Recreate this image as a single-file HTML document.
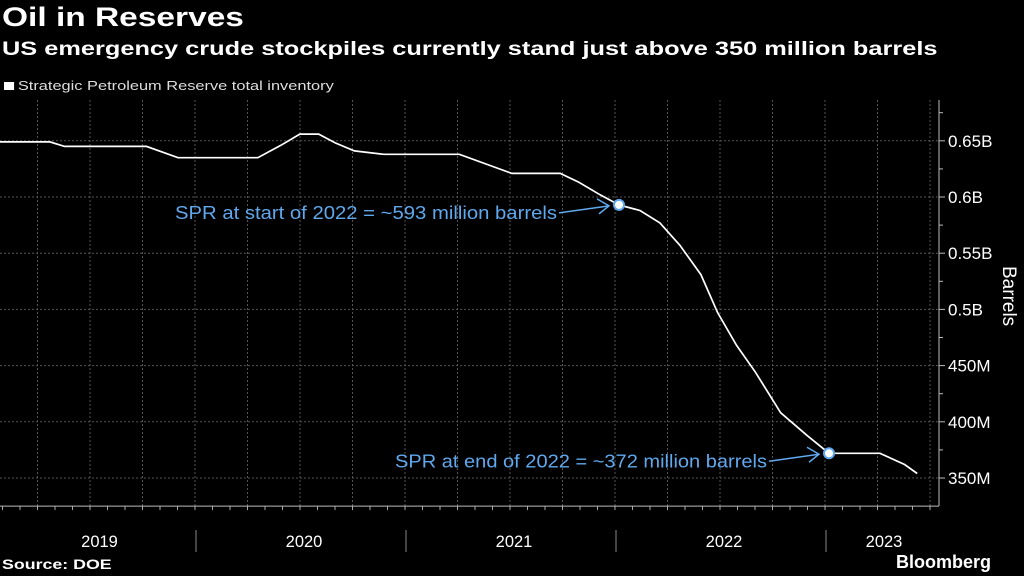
<!DOCTYPE html>
<html><head><meta charset="utf-8"><style>
body{margin:0;background:#000;width:1024px;height:576px;overflow:hidden;font-family:"Liberation Sans",sans-serif;color:#fff}
.t{position:absolute;white-space:nowrap;transform-origin:0 0}
</style></head><body>
<div class="t" style="left:2px;top:2px;font-size:27px;font-weight:bold;transform:scaleX(1.24)">Oil in Reserves</div>
<div class="t" style="left:2px;top:38px;font-size:19.5px;font-weight:bold;transform:scaleX(1.3)">US emergency crude stockpiles currently stand just above 350 million barrels</div>
<div class="t" style="left:4px;top:78px;font-size:13px;color:#ddd;transform:scaleX(1.26)"><span style="display:inline-block;width:8px;height:8px;background:#fff;margin-right:3px"></span>Strategic Petroleum Reserve total inventory</div>
<div class="t" style="left:2px;top:556px;font-size:14px;font-weight:bold;transform:scaleX(1.27)">Source: DOE</div>
<div class="t" style="left:896px;top:552px;font-size:18px;font-weight:bold">Bloomberg</div>
<svg id="c" width="1024" height="576" style="position:absolute;left:0;top:0"></svg>
<script>
const years=[2019.05,2019.29,2019.36,2019.75,2019.9,2020.28,2020.39,2020.48,2020.57,2020.65,2020.74,2020.88,2021.24,2021.49,2021.72,2021.81,2021.91,2022.0,2022.1,2022.195,2022.29,2022.39,2022.47,2022.56,2022.65,2022.77,2022.895,2023.0,2023.243,2023.36,2023.42];
const inventory=[649,649,645,645,635,635,646,656,656,648,641,638,638,621,621,613,602,593,588,577,557,531,497,468,444,408,388,372,372,362,354];
const yTicks=[350,400,450,500,550,600,650];
const yTickLabels=["350M","400M","450M","0.5B","0.55B","0.6B","0.65B"];
const yearLabels=["2019","2020","2021","2022","2023"];
const annotations=[{t:2022.0,v:593,text:"SPR at start of 2022 = ~593 million barrels",w:382},{t:2023.0,v:372,text:"SPR at end of 2022 = ~372 million barrels",w:372}];
const svg=document.getElementById('c');const NS='http://www.w3.org/2000/svg';
const X=t=>199+(t-2020)*210;const Y=v=>197+(600-v)/0.8897;
function mk(tag,a,p){const e=document.createElementNS(NS,tag);for(const k in a)e.setAttribute(k,a[k]);(p||svg).appendChild(e);return e;}
const L=0,R=939,T=100,B=506;
for(let t=2019;t<=2023.5;t+=0.25){const x=X(t)-4;if(x<L||x>R-2)continue;
const g=mk('line',{x1:x,x2:x,y1:T,y2:B,stroke:'#555','stroke-dasharray':'2,2','stroke-width':1});

}
for(let t=2019;t<=2023.5;t+=1/12){const x=X(t)-4;if(x<L||x>R)continue;mk('line',{x1:x,x2:x,y1:B,y2:B+4,stroke:'#aaa'});}
yTicks.forEach((v,i)=>{const y=Y(v);
const g=mk('line',{x1:L,x2:R,y1:y,y2:y,stroke:'#555','stroke-dasharray':'2,2'});


mk('line',{x1:R,x2:R+6,y1:y,y2:y,stroke:'#bbb'});
mk('line',{x1:R,x2:R+4,y1:Y(v+25),y2:Y(v+25),stroke:'#bbb'});
const tx=mk('text',{x:R+9,y:y+6,fill:'#fff','font-size':17,'font-family':'Liberation Sans, sans-serif'});tx.textContent=yTickLabels[i];

});
mk('line',{x1:L,x2:R,y1:Y(325),y2:Y(325),stroke:'#bbb'});
mk('line',{x1:R,x2:R,y1:T,y2:B,stroke:'#bbb'});
const yt=mk('text',{x:0,y:0,fill:'#fff','font-size':19,'font-family':'Liberation Sans, sans-serif',transform:'translate(1003,266) rotate(90)'});yt.textContent='Barrels';


yearLabels.forEach((s,i)=>{const y0=+s;const x1=Math.max(X(y0),0),x2=Math.min(X(y0+1),R);
if(X(y0)>0)mk('line',{x1:X(y0)-3,x2:X(y0)-3,y1:530,y2:552,stroke:'#888'});
const tx=mk('text',{x:(x1+x2)/2,y:547,fill:'#fff','font-size':16.5,'text-anchor':'middle','font-family':'Liberation Sans, sans-serif'});tx.textContent=s;

});
const d=years.map((t,i)=>(i?'L':'M')+X(t).toFixed(1)+','+Y(inventory[i]).toFixed(1)).join(' ');
const p=mk('path',{d:'M0,'+Y(inventory[0]).toFixed(1)+' '+d.replace(/^M/,'L'),fill:'none',stroke:'#fff','stroke-width':1.7});


annotations.forEach(a=>{const x=X(a.t),y=Y(a.v);
const tx=mk('text',{x:x-62-a.w,y:y+14,fill:'#5fa8ee','font-size':18,textLength:a.w,lengthAdjust:'spacingAndGlyphs','font-family':'Liberation Sans, sans-serif'});tx.textContent=a.text;


mk('line',{x1:x-60,y1:y+8,x2:x-10,y2:y+1,stroke:'#5fa8ee','stroke-width':1.5});
mk('path',{d:`M${x-22},${y-6} L${x-10},${y+1} L${x-20},${y+9}`,fill:'none',stroke:'#5fa8ee','stroke-width':1.5});
const c=mk('circle',{cx:x,cy:y,r:5,fill:'#fff',stroke:'#5fa8ee','stroke-width':2});

});
</script>
</body></html>
